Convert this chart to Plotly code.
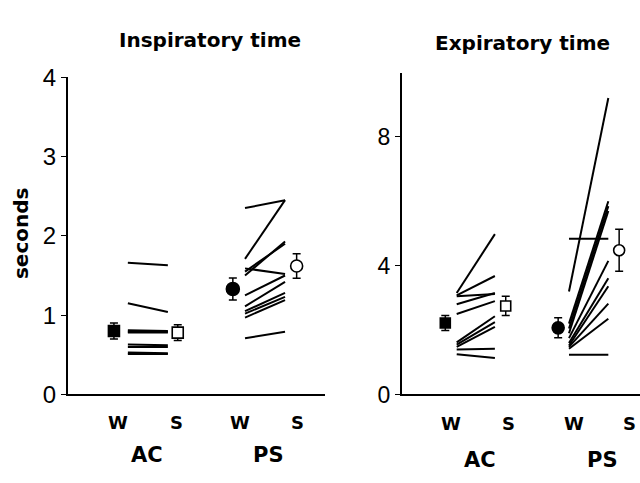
import plotly.graph_objects as go

# ---------------- data ----------------
# Inspiratory time (s), individual subjects
insp_ac_w = [1.66, 1.15, 0.81, 0.79, 0.78, 0.63, 0.60, 0.53, 0.51]
insp_ac_s = [1.63, 1.04, 0.80, 0.79, 0.78, 0.62, 0.60, 0.52, 0.51]
insp_ps_w = [2.35, 1.71, 1.55, 1.50, 1.59, 1.25, 1.11, 1.05, 1.02, 0.97, 0.71]
insp_ps_s = [2.45, 2.45, 1.90, 1.93, 1.52, 1.50, 1.42, 1.28, 1.23, 1.19, 0.79]
# Expiratory time (s), individual subjects
exp_ac_w = [3.15, 3.08, 3.05, 2.80, 2.50, 1.62, 1.55, 1.48, 1.40, 1.25]
exp_ac_s = [4.98, 3.68, 3.12, 3.15, 2.90, 2.43, 2.25, 2.10, 1.42, 1.13]
exp_ps_w = [3.20, 4.84, 2.20, 2.05, 1.90, 1.75, 1.60, 1.52, 1.48, 1.42, 1.23]
exp_ps_s = [9.21, 4.84, 6.00, 5.85, 5.70, 4.15, 3.61, 3.36, 2.82, 2.35, 1.23]
# Group means and SEM: order AC-W, AC-S, PS-W, PS-S
insp_mean = [0.80, 0.78, 1.33, 1.62]
insp_sem = [0.10, 0.10, 0.14, 0.155]
exp_mean = [2.22, 2.75, 2.07, 4.48]
exp_sem = [0.23, 0.30, 0.31, 0.65]

cond_labels = ["W", "S", "W", "S"]
group_labels = ["AC", "PS"]
titles = ["Inspiratory time", "Expiratory time"]

TICKFONT = "Liberation Sans, Arial, sans-serif"
BOLDFONT = "DejaVu Sans, Liberation Sans, sans-serif"

fig = go.Figure()

def pair_lines(w, s, x0, x1, xa, ya):
    xs, ys = [], []
    for a, b in zip(w, s):
        xs += [x0, x1, None]
        ys += [a, b, None]
    fig.add_trace(go.Scatter(x=xs, y=ys, mode="lines", xaxis=xa, yaxis=ya,
                             line=dict(color="black", width=2), showlegend=False,
                             hoverinfo="skip"))

def mean_marker(x, m, e, symbol, fill, size, xa, ya):
    fig.add_trace(go.Scatter(x=[x], y=[m], mode="markers", xaxis=xa, yaxis=ya,
                             marker=dict(symbol=symbol, size=size, color=fill,
                                         line=dict(color="black", width=1.6)),
                             error_y=dict(type="data", array=[e], color="black",
                                          thickness=1.5, width=4),
                             showlegend=False))

# category positions (axis units)
L_pos = [1.0, 2.0, 3.10, 4.09]
R_pos = [1.0, 2.0, 3.16, 4.14]

# ---- left panel ----
pair_lines(insp_ac_w, insp_ac_s, L_pos[0] + 0.17, L_pos[1] - 0.14, "x", "y")
pair_lines(insp_ps_w, insp_ps_s, L_pos[2] + 0.09, L_pos[3] - 0.21, "x", "y")
mean_marker(L_pos[0] - 0.07, insp_mean[0], insp_sem[0], "square", "black", 11, "x", "y")
mean_marker(L_pos[1] + 0.03, insp_mean[1], insp_sem[1], "square", "white", 11, "x", "y")
mean_marker(L_pos[2] - 0.12, insp_mean[2], insp_sem[2], "circle", "black", 13, "x", "y")
mean_marker(L_pos[3] - 0.01, insp_mean[3], insp_sem[3], "circle", "white", 12, "x", "y")

# ---- right panel ----
pair_lines(exp_ac_w, exp_ac_s, R_pos[0] + 0.10, R_pos[1] - 0.23, "x2", "y2")
pair_lines(exp_ps_w, exp_ps_s, R_pos[2] - 0.09, R_pos[3] - 0.38, "x2", "y2")
mean_marker(R_pos[0] - 0.10, exp_mean[0], exp_sem[0], "square", "black", 10, "x2", "y2")
mean_marker(R_pos[1] - 0.04, exp_mean[1], exp_sem[1], "square", "white", 10, "x2", "y2")
mean_marker(R_pos[2] - 0.28, exp_mean[2], exp_sem[2], "circle", "black", 12, "x2", "y2")
mean_marker(R_pos[3] - 0.19, exp_mean[3], exp_sem[3], "circle", "white", 11, "x2", "y2")

W, H = 640, 483
def px_x(p): return p / W
def px_y(p): return (H - p) / H

axis_common = dict(showgrid=False, zeroline=False, showline=True, linecolor="black")

fig.update_layout(
    width=W, height=H, margin=dict(l=0, r=0, t=0, b=0),
    paper_bgcolor="white", plot_bgcolor="white",
    font=dict(family=TICKFONT, color="black"),
    xaxis=dict(domain=[px_x(68), px_x(325)], range=[1 - 50 / 58, 1 + 207 / 58],
               showticklabels=False, ticks="", linewidth=1.5, **axis_common),
    yaxis=dict(domain=[px_y(403), px_y(67)], range=[0, 4], tickvals=[0, 1, 2, 3, 4],
               ticks="outside", ticklen=5, tickwidth=1, tickcolor="black",
               tickfont=dict(size=24, family=TICKFONT), linewidth=2, **axis_common),
    xaxis2=dict(domain=[px_x(402), 1.0], range=[1 - 49 / 57, 1 + 189 / 57],
                showticklabels=False, ticks="", linewidth=1.5, anchor="y2", **axis_common),
    yaxis2=dict(domain=[px_y(403), px_y(63)], range=[0, 9.97], tickvals=[0, 4, 8],
                ticks="outside", ticklen=5, tickwidth=1, tickcolor="black",
                tickfont=dict(size=23, family=TICKFONT), linewidth=2, anchor="x2",
                **axis_common),
)

def bold(size):
    return dict(size=size, family=BOLDFONT, weight="bold")

ann = []
for i, lab in enumerate(cond_labels):
    ann.append(dict(x=L_pos[i], y=px_y(433), xref="x", yref="paper", text=lab,
                    xanchor="center", yanchor="middle", showarrow=False, font=bold(18)))
    ann.append(dict(x=R_pos[i], y=px_y(434), xref="x2", yref="paper", text=lab,
                    xanchor="center", yanchor="middle", showarrow=False, font=bold(18)))
for g, lab in enumerate(group_labels):
    ann.append(dict(x=(L_pos[2 * g] + L_pos[2 * g + 1]) / 2, y=px_y(467), xref="x",
                    yref="paper", text=lab, xanchor="center", yanchor="middle",
                    showarrow=False, font=bold(21)))
    ann.append(dict(x=(R_pos[2 * g] + R_pos[2 * g + 1]) / 2, y=px_y(472), xref="x2",
                    yref="paper", text=lab, xanchor="center", yanchor="middle",
                    showarrow=False, font=bold(21)))
ann.append(dict(x=px_x(210), y=px_y(28), xref="paper", yref="paper", text=titles[0],
                xanchor="center", yanchor="middle", showarrow=False, font=bold(20)))
ann.append(dict(x=px_x(522), y=px_y(31), xref="paper", yref="paper", text=titles[1],
                xanchor="center", yanchor="middle", showarrow=False, font=bold(20)))
ann.append(dict(x=px_x(21), y=px_y(232), xref="paper", yref="paper", text="seconds",
                textangle=-90, xanchor="center", yanchor="middle", showarrow=False,
                font=bold(20)))
fig.update_layout(annotations=ann)

fig.write_html("out.html")
